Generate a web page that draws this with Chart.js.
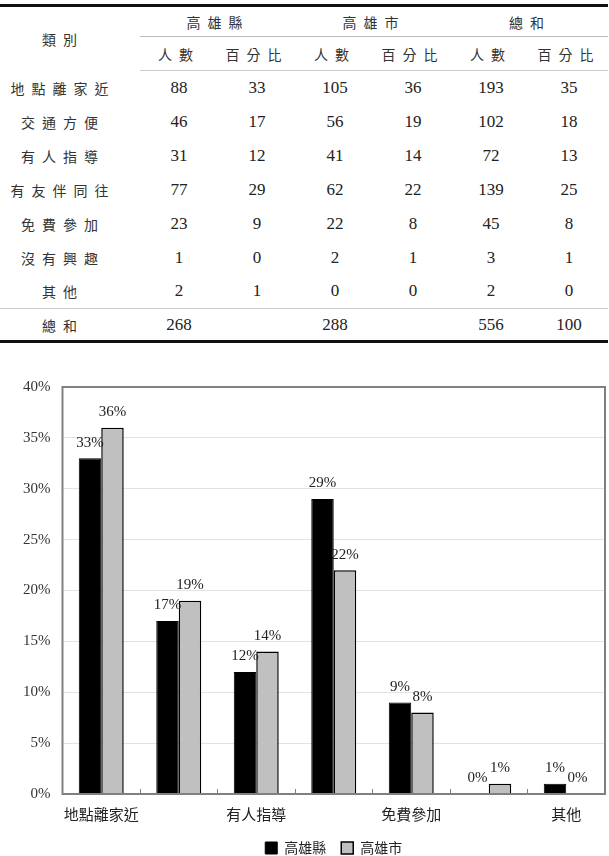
<!DOCTYPE html>
<html>
<head>
<meta charset="utf-8">
<script src="https://cdn.jsdelivr.net/npm/chart.js@4.4.1/dist/chart.umd.min.js"></script>
<style>
  html, body { margin: 0; padding: 0; background: #fff; }
  body { width: 609px; height: 856px; position: relative; overflow: hidden; }
  #tbl { position: absolute; left: 0; top: 4px; width: 608px; border-collapse: collapse; table-layout: fixed;
         border-top: 3px solid #111; border-bottom: 3px solid #111; }
  #tbl td { padding: 0; text-align: center; vertical-align: middle; }
  .cjk { font-family: "Noto Sans CJK TC", sans-serif; font-size: 14px; color: #333; letter-spacing: 7px; }
  .num { font-family: "Liberation Serif", serif; font-size: 17px; color: #222; }
  .grp td.g { border-bottom: 1px solid #bbb; }
  .sub td { border-bottom: 1px solid #ccc; }
  .total td { border-top: 1px solid #ccc; }
  #wrap { position: absolute; left: 0; top: 355px; width: 609px; height: 510px; }
</style>
</head>
<body>
<table id="tbl"></table>
<div id="wrap"><canvas id="bar-chart"></canvas></div>
<script>
// table + chart data
const categories = ['地點離家近', '交通方便', '有人指導', '有友伴同往', '免費參加', '沒有興趣', '其他'];
const countyCount = [88, 46, 31, 77, 23, 1, 2];
const countyPct = [33, 17, 12, 29, 9, 0, 1];
const cityCount = [105, 56, 41, 62, 22, 2, 0];
const cityPct = [36, 19, 14, 22, 8, 1, 0];
const totalCount = [193, 102, 72, 139, 45, 3, 2];
const totalPct = [35, 18, 13, 25, 8, 1, 0];
const sumRow = ['268', '', '288', '', '556', '100'];
const seriesNames = ['高雄縣', '高雄市'];
const yTicks = [0, 5, 10, 15, 20, 25, 30, 35, 40];

// build the table
const tbl = document.getElementById('tbl');
let html = '<colgroup><col style="width:140px">' + '<col style="width:78px">'.repeat(6) + '</colgroup>';
html += '<tr class="grp" style="height:31px"><td rowspan="2" class="cjk" style="padding-right:14px">類別</td>' +
  '<td colspan="2" class="cjk g">高雄縣</td><td colspan="2" class="cjk g">高雄市</td><td colspan="2" class="cjk g">總和</td></tr>';
html += '<tr class="sub" style="height:34px">' + '<td class="cjk">人數</td><td class="cjk">百分比</td>'.repeat(3) + '</tr>';
categories.forEach((c, i) => {
  html += '<tr style="height:34px"><td class="cjk" style="padding-right:14px">' + c + '</td>' +
    [countyCount[i], countyPct[i], cityCount[i], cityPct[i], totalCount[i], totalPct[i]]
      .map(v => '<td class="num">' + v + '</td>').join('') + '</tr>';
});
html += '<tr class="total" style="height:33px"><td class="cjk" style="padding-right:14px">總和</td>' +
  sumRow.map(v => '<td class="num">' + v + '</td>').join('') + '</tr>';
tbl.innerHTML = html;

// percent labels above each bar
const barLabels = {
  id: 'barLabels',
  afterDatasetsDraw(chart) {
    const ctx = chart.ctx;
    ctx.save();
    ctx.font = '15px "Liberation Serif"';
    ctx.fillStyle = '#222';
    ctx.textAlign = 'center';
    ctx.textBaseline = 'bottom';
    chart.data.datasets.forEach((ds, i) => {
      chart.getDatasetMeta(i).data.forEach((bar, j) => {
        ctx.fillText(ds.data[j] + '%', bar.x, bar.y - 8);
      });
    });
    ctx.restore();
  }
};

// gray frame round the plot and small inward ticks between categories
const plotFrame = {
  id: 'plotFrame',
  afterDraw(chart) {
    const { ctx, chartArea: a, scales } = chart;
    ctx.save();
    ctx.strokeStyle = '#808080';
    ctx.lineWidth = 2;
    ctx.strokeRect(a.left, a.top, a.right - a.left, a.bottom - a.top);
    ctx.lineWidth = 1;
    for (let i = 1; i < categories.length; i++) {
      const x = Math.round((scales.x.getPixelForValue(i - 1) + scales.x.getPixelForValue(i)) / 2) + 0.5;
      ctx.beginPath();
      ctx.moveTo(x, a.bottom);
      ctx.lineTo(x, a.bottom - 5);
      ctx.stroke();
    }
    ctx.restore();
  }
};

const ctx = document.getElementById('bar-chart').getContext('2d');
new Chart(ctx, {
  type: 'bar',
  data: {
    labels: categories,
    datasets: [
      {
        label: seriesNames[0],
        data: countyPct,
        backgroundColor: '#000000',
        borderColor: '#000000',
        borderWidth: 1,
        categoryPercentage: 0.58,
        barPercentage: 1.0,
      },
      {
        label: seriesNames[1],
        data: cityPct,
        backgroundColor: '#c0c0c0',
        borderColor: '#000000',
        borderWidth: 1.5,
        categoryPercentage: 0.58,
        barPercentage: 1.0,
      },
    ],
  },
  options: {
    responsive: true,
    maintainAspectRatio: false,
    animation: false,
    layout: { padding: { top: 32, left: 11, right: 4, bottom: 0 } },
    plugins: {
      tooltip: { enabled: false },
      legend: {
        position: 'bottom',
        fullSize: false,
        labels: {
          color: '#222',
          font: { family: '"Noto Sans CJK TC"', size: 14 },
          boxWidth: 12,
          boxHeight: 12,
          padding: 15,
        },
      },
    },
    scales: {
      x: {
        grid: { display: false },
        border: { display: false },
        ticks: {
          autoSkip: false,
          maxRotation: 0,
          color: '#222',
          font: { family: '"Noto Sans CJK TC"', size: 15 },
          padding: 3,
          callback: (v, i) => (i % 2 === 0 ? categories[i] : ''),
        },
      },
      y: {
        min: 0,
        max: 40,
        afterBuildTicks: (axis) => { axis.ticks = yTicks.map(v => ({ value: v })); },
        grid: { color: '#e2e2e2', drawTicks: false },
        border: { display: false },
        ticks: {
          color: '#333',
          font: { family: '"Liberation Serif"', size: 15 },
          padding: 12,
          callback: (v) => v + '%',
        },
      },
    },
  },
  plugins: [barLabels, plotFrame],
});
</script>
</body>
</html>
